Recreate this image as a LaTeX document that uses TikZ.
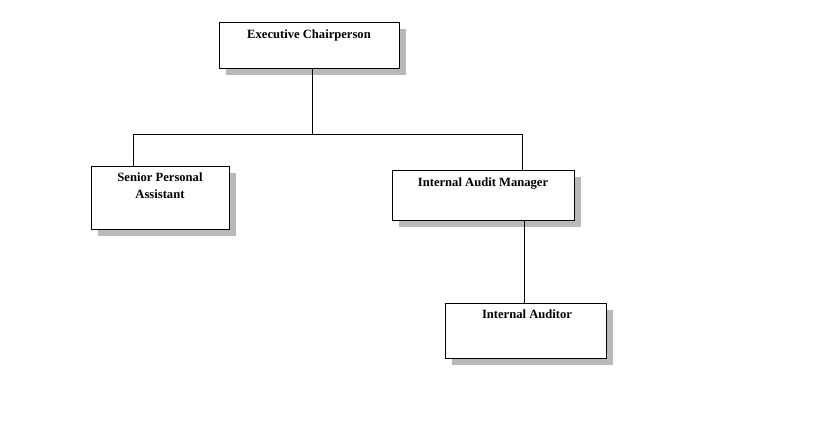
\documentclass[tikz,border=0pt]{standalone}
\usepackage{fontspec}
\setmainfont{Liberation Serif}
\begin{document}
\begin{tikzpicture}[x=1pt,y=-1pt,
  orgbox/.style={draw=black,line width=1.2pt,fill=white,anchor=north west,inner sep=0pt},
  shadowbox/.style={fill=gray!55,draw=none},
  lbl/.style={font=\fontsize{12.6}{16.5}\selectfont\bfseries,align=center,anchor=north,inner sep=0pt},
  conn/.style={line width=0.9pt}]
\useasboundingbox[fill=white] (0,0) rectangle (828,423);
% shadows
\fill[shadowbox] (226,29) rectangle (406,75);
\fill[shadowbox] (98,173) rectangle (236,236);
\fill[shadowbox] (399,177) rectangle (581,227);
\fill[shadowbox] (452,310) rectangle (613,365);
% boxes
\node[orgbox,minimum width=180pt,minimum height=46pt] (ec) at (219,22) {};
\node[orgbox,minimum width=138pt,minimum height=63pt] (spa) at (91,166) {};
\node[orgbox,minimum width=182pt,minimum height=50pt] (iam) at (392,170) {};
\node[orgbox,minimum width=161pt,minimum height=55pt] (ia) at (445,303) {};
% labels
\node[lbl] (ect) at (309,30) {Executive Chairperson};
\node[lbl] (spat) at (160,173) {Senior Personal\\Assistant};
\node[lbl] (iamt) at (483,178) {Internal Audit Manager};
\node[lbl] (iat) at (527,310) {Internal Auditor};
% connectors
\coordinate (j) at (312,134);
\coordinate (jl) at (133,134);
\coordinate (jr) at (522,134);
\draw[conn] (ec.south -| j) -- (j);
\draw[conn] (jl) -- (jr);
\draw[conn] (jl) -- (jl |- spa.north);
\draw[conn] (jr) -- (jr |- iam.north);
\coordinate (k) at (524,220);
\draw[conn] (k) -- (k |- ia.north);
\end{tikzpicture}
\end{document}
